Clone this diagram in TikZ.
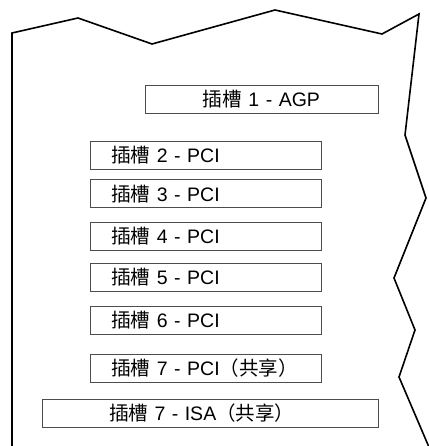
\documentclass[tikz,border=0pt]{standalone}
\usepackage{fontspec}
\setmainfont{Liberation Sans}
\newfontfamily\cjk{Noto Sans CJK TC}
\usetikzlibrary{positioning}
\newcommand{\Tslot}{{\cjk 插槽}}
\newcommand{\Tshared}{{\cjk （共享）}}
\newcommand{\Tpci}{PCI}
\tikzstyle{slotbox} = [rectangle, draw=black!70, line width=0.8pt, minimum height=28pt, inner ysep=0pt, inner xsep=21pt, text width=189pt, align=left, font=\fontsize{19.5}{20}\selectfont]
\tikzstyle{boardedge} = [line width=1.6pt, line join=miter]

\begin{document}
\begin{tikzpicture}[x=1pt, y=-1pt]
\useasboundingbox (0,0) rectangle (428,446);

% Define nodes
\node[slotbox, align=center, inner xsep=4pt, text width=225pt] (s1) at (261.5,99.5) {\Tslot{} 1 - AGP};
\node[slotbox, anchor=west]                               (s2) at (90,155)     {\Tslot{} 2 - \Tpci};
\node[slotbox, below=10pt of s2.south west, anchor=north west] (s3) {\Tslot{} 3 - \Tpci};
\node[slotbox, below=14pt of s3.south west, anchor=north west] (s4) {\Tslot{} 4 - \Tpci};
\node[slotbox, below=12pt of s4.south west, anchor=north west] (s5) {\Tslot{} 5 - \Tpci};
\node[slotbox, below=14pt of s5.south west, anchor=north west] (s6) {\Tslot{} 6 - \Tpci};
\node[slotbox, below=19pt of s6.south west, anchor=north west] (s7) {\Tslot{} 7 - \Tpci\Tshared};
\node[slotbox, inner xsep=67pt, text width=202pt]         (isa) at (210,413.5) {\Tslot{} 7 - ISA\Tshared};

% Board outline
\draw[boardedge] (12,446) -- (12,33) -- (78,18) -- (152,44) -- (275,10) -- (382,34) -- (419,14)
  -- (405,135) -- (426,198) -- (394,278) -- (415,330) -- (399,377) -- (428.5,446);
\end{tikzpicture}
\end{document}
